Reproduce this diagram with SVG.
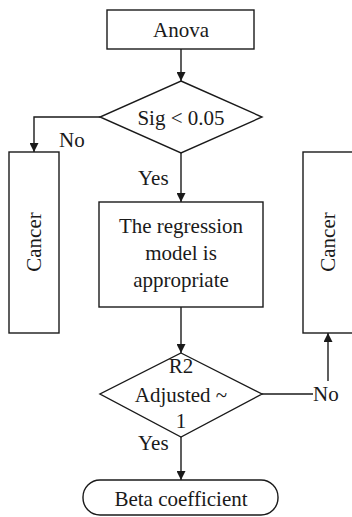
<svg xmlns="http://www.w3.org/2000/svg" width="352" height="517" viewBox="0 0 352 517" font-family="Liberation Serif, Times New Roman, DejaVu Serif, serif" font-size="21">
<defs>
<style>
.s{fill:#fff;stroke:#1a1a1a;stroke-width:1.4}
.c{fill:none;stroke:#1a1a1a;stroke-width:1.4}
.t{fill:#1a1a1a}
.m{text-anchor:middle}
</style>
<marker id="ah" viewBox="0 0 10 10" refX="10" refY="5" markerWidth="9" markerHeight="9" markerUnits="userSpaceOnUse" orient="auto">
<path d="M0,0 L10,5 L0,10 Z" fill="#1a1a1a"/>
</marker>
</defs>
<rect width="352" height="517" fill="#fff"/>
<g id="connectors">
<path class="c" d="M181,49 V81" marker-end="url(#ah)"/>
<path class="c" d="M100,117 H34 V152" marker-end="url(#ah)"/>
<path class="c" d="M181,153 V202" marker-end="url(#ah)"/>
<path class="c" d="M181,307 V353" marker-end="url(#ah)"/>
<path class="c" d="M262,394 H313"/>
<path class="c" d="M328,381 V333" marker-end="url(#ah)"/>
<path class="c" d="M181,437 V480" marker-end="url(#ah)"/>
<text class="t" x="59" y="147">No</text>
<text class="t" x="138" y="185">Yes</text>
<text class="t" x="313" y="401">No</text>
<text class="t" x="138" y="450">Yes</text>
</g>
<g id="anova">
<rect class="s" x="107" y="10" width="147" height="39"/>
<text class="t m" x="181" y="37">Anova</text>
</g>
<g id="sig">
<polygon class="s" points="181,81 262,117 181,153 100,117"/>
<text class="t m" x="181" y="125">Sig &lt; 0.05</text>
</g>
<g id="cancer-left">
<rect class="s" x="9" y="152" width="50" height="181"/>
<text class="t m" transform="translate(41,242) rotate(-90)">Cancer</text>
</g>
<g id="regression">
<rect class="s" x="99" y="202" width="164" height="105"/>
<text class="t m" x="181" y="233">The regression</text>
<text class="t m" x="181" y="260">model is</text>
<text class="t m" x="181" y="287">appropriate</text>
</g>
<g id="cancer-right">
<rect class="s" x="303" y="152" width="60" height="181"/>
<text class="t m" transform="translate(335,242) rotate(-90)">Cancer</text>
</g>
<g id="r2">
<polygon class="s" points="181,353 262,394 181,437 100,394"/>
<text class="t m" x="181" y="373">R2</text>
<text class="t m" x="181" y="402">Adjusted ~</text>
<text class="t m" x="181" y="428">1</text>
</g>
<g id="beta">
<rect class="s" x="83" y="480" width="195" height="35" rx="17" ry="17"/>
<text class="t m" x="181" y="506">Beta coefficient</text>
</g>
</svg>
